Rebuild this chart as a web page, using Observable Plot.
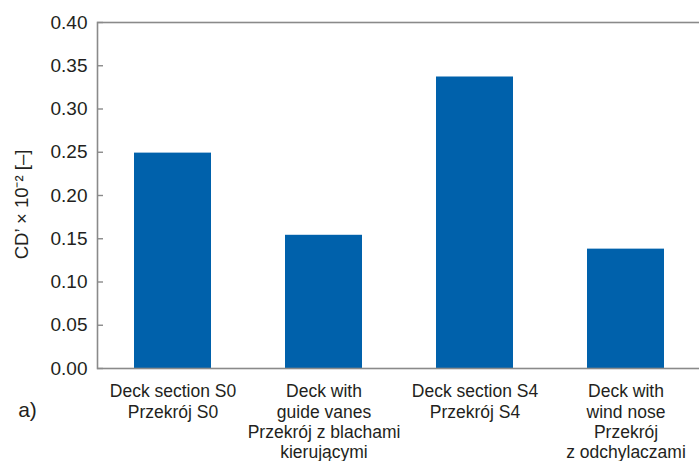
<!DOCTYPE html>
<html>
<head>
<meta charset="utf-8">
<script src="https://cdn.jsdelivr.net/npm/d3@7"></script>
<script src="https://cdn.jsdelivr.net/npm/@observablehq/plot@0.6"></script>
<style>
  html, body { margin: 0; padding: 0; background: #fff; }
  #chart svg { display: block; }
</style>
</head>
<body>
<div id="chart"></div>
<script>
const categories = ["S0", "GV", "S4", "WN"];
const categoryLabels = [
  "Deck section S0\nPrzekrój S0",
  "Deck with\nguide vanes\nPrzekrój z blachami\nkierującymi",
  "Deck section S4\nPrzekrój S4",
  "Deck with\nwind nose\nPrzekrój\nz odchylaczami"
];
const values = [0.249, 0.154, 0.337, 0.138];
const yTicks = [0, 0.05, 0.10, 0.15, 0.20, 0.25, 0.30, 0.35, 0.40];
const yLabel = "CD’ × 10⁻² [–]";
const panelLabel = "a)";

const data = categories.map((c, i) => ({cat: c, value: values[i]}));
const labelOf = Object.fromEntries(categories.map((c, i) => [c, categoryLabels[i]]));

const textColor = "#231f20";
const axisColor = "#8a8a8a";

const chart = Plot.plot({
  width: 699,
  height: 461,
  marginTop: 22,
  marginBottom: 93,
  marginLeft: 97,
  marginRight: -4,
  style: {fontFamily: "'Liberation Sans', Arial, sans-serif", color: textColor, background: "#fff"},
  x: {domain: categories, range: [97, 701], paddingInner: 0.49, paddingOuter: 0.245, align: 0.5},
  y: {domain: [0, 0.4], range: [368, 22]},
  marks: [
    Plot.barY(data, {x: "cat", y: "value", fill: "#0061ab"}),
    Plot.frame({stroke: axisColor, strokeWidth: 1.6}),
    // inward ticks
    Plot.axisY({ticks: yTicks, tickSize: -6, text: null, stroke: axisColor, strokeWidth: 1.4, label: null}),
    // tick labels
    Plot.axisY({ticks: yTicks, tickSize: 0, tickPadding: 10, tickFormat: d3.format(".2f"), fontSize: 19, fill: textColor, label: null}),
    Plot.axisX({tickSize: 0, tickPadding: 14, tickFormat: d => labelOf[d], fontSize: 17.5, lineHeight: 1.17, fill: textColor, label: null}),
    Plot.text([yLabel], {frameAnchor: "left", rotate: -90, dx: -75, dy: 9, fontSize: 18.5, fill: textColor, textAnchor: "middle", lineAnchor: "middle"}),
    Plot.text([panelLabel], {frameAnchor: "bottom-left", dx: -70, dy: 42, fontSize: 21, fill: textColor, textAnchor: "middle", lineAnchor: "middle"})
  ]
});
document.getElementById("chart").appendChild(chart);
</script>
</body>
</html>
